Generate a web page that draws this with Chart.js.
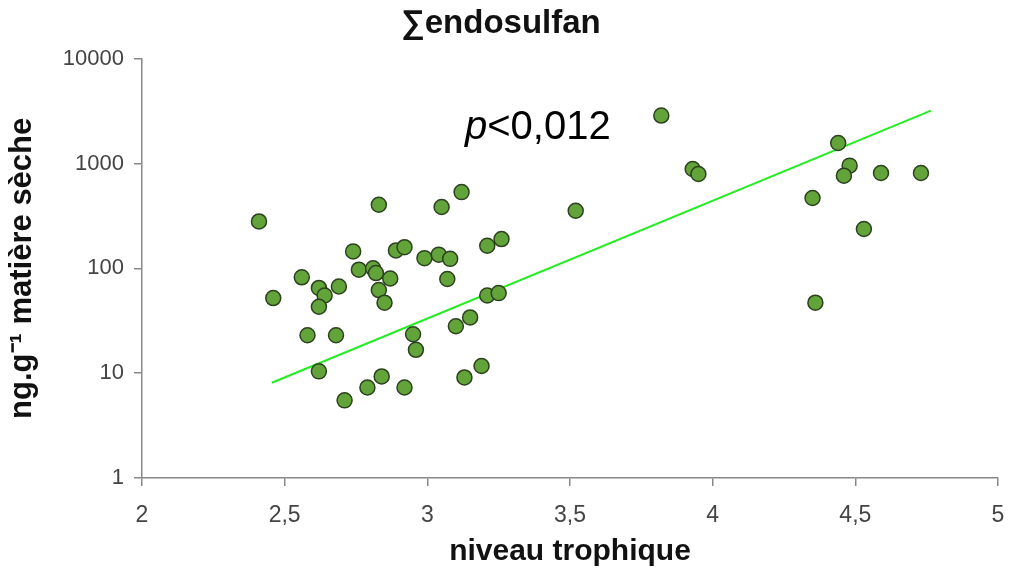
<!DOCTYPE html>
<html>
<head>
<meta charset="utf-8">
<script src="https://cdn.jsdelivr.net/npm/chart.js@4.4.1/dist/chart.umd.min.js"></script>
<style>
  html, body { margin: 0; padding: 0; background: #fff; }
  #wrap { width: 1009px; height: 570px; }
</style>
</head>
<body>
<div id="wrap"><canvas id="chart"></canvas></div>
<script>
// trophic level of each sample
const trophicLevel = [
    2.41, 2.83, 2.74, 2.89, 2.92, 2.99, 2.56, 2.76, 2.81, 2.82,
    2.87, 2.69, 2.62, 2.64, 2.62, 2.46, 2.83, 2.85, 2.58, 2.68,
    2.95, 2.96, 2.62, 2.84, 2.79, 2.92, 2.71, 3.12, 3.05, 3.04,
    3.08, 3.21, 3.26, 3.07, 3.21, 3.25, 3.15, 3.10, 3.13, 3.19,
    3.52, 3.82, 3.93, 3.95, 4.44, 4.48, 4.46, 4.59, 4.73, 4.35,
    4.53, 4.36
];
// sum of endosulfan, ng/g dry matter
const endosulfan = [
    280, 404, 145, 148, 159, 125, 82, 97, 100, 90,
    80, 67, 65, 55, 43, 52, 62, 47, 23, 23,
    23.5, 16.7, 10.4, 9.3, 7.3, 7.3, 5.5, 533, 384, 135,
    123, 164, 190, 79, 55, 58, 34, 28, 9.1, 11.7,
    354, 2860, 885, 793, 1566, 953, 764, 811, 811, 468,
    237, 47
];
// regression line ends
const trendX = [2.455, 4.765];
const trendY = [8.1, 3190];

const xTicks = [2, 2.5, 3, 3.5, 4, 4.5, 5];
const xTickLabels = ['2', '2,5', '3', '3,5', '4', '4,5', '5'];
const yTicks = [1, 10, 100, 1000, 10000];
const yTickLabels = ['1', '10', '100', '1000', '10000'];

const pLabel = 'p<0,012';

const FONT = "'Liberation Sans', Arial, sans-serif";

// draws the "p<0,012" note, p in italic
const pNote = {
    id: 'pNote',
    afterDatasetsDraw(chart) {
        const ctx = chart.ctx;
        const x = chart.scales.x.getPixelForValue(3.132);
        const y = chart.scales.y.getPixelForValue(1722);
        ctx.save();
        ctx.fillStyle = '#000';
        ctx.textBaseline = 'alphabetic';
        ctx.font = 'italic 40px ' + FONT;
        ctx.fillText(pLabel[0], x, y);
        const w = ctx.measureText(pLabel[0]).width;
        ctx.font = '40px ' + FONT;
        ctx.fillText(pLabel.slice(1), x + w, y);
        ctx.restore();
    }
};

new Chart(document.getElementById('chart'), {
    type: 'scatter',
    data: {
        datasets: [
            {
                label: 'endosulfan',
                data: trophicLevel.map((t, i) => ({ x: t, y: endosulfan[i] })),
                backgroundColor: '#62a33a',
                borderColor: '#2c421e',
                borderWidth: 1.5,
                pointRadius: 7.5,
                order: 1
            },
            {
                type: 'line',
                label: 'trend',
                data: trendX.map((t, i) => ({ x: t, y: trendY[i] })),
                borderColor: '#22ee22',
                borderWidth: 2,
                pointRadius: 0,
                fill: false,
                order: 2
            }
        ]
    },
    options: {
        responsive: true,
        maintainAspectRatio: false,
        animation: false,
        layout: { padding: { left: 4, right: 11, top: 0, bottom: 0 } },
        plugins: {
            legend: { display: false },
            tooltip: { enabled: false },
            title: {
                display: true,
                text: '∑endosulfan',
                color: '#111',
                font: { family: FONT, size: 33, weight: 'bold' },
                padding: { top: 4, bottom: 15 }
            }
        },
        scales: {
            x: {
                type: 'linear',
                min: 2,
                max: 5,
                afterBuildTicks: (scale) => { scale.ticks = xTicks.map(v => ({ value: v })); },
                afterFit: (scale) => {
                    scale.height = 92;
                    scale.paddingLeft = 0;
                    scale.paddingRight = 0;
                },
                ticks: {
                    color: '#444',
                    font: { family: FONT, size: 23 },
                    padding: 16,
                    callback: (v) => xTickLabels[xTicks.indexOf(v)]
                },
                grid: { drawOnChartArea: false, drawTicks: true, tickLength: 8, color: '#888', lineWidth: 1.5 },
                border: { color: '#888', width: 1.5 },
                title: {
                    display: true,
                    text: 'niveau trophique',
                    color: '#111',
                    font: { family: FONT, size: 30, weight: 'bold' },
                    padding: { top: 0, bottom: 0 }
                }
            },
            y: {
                type: 'logarithmic',
                min: 1,
                max: 10000,
                afterBuildTicks: (scale) => { scale.ticks = yTicks.map(v => ({ value: v })); },
                afterFit: (scale) => { scale.width = 138; },
                ticks: {
                    color: '#444',
                    font: { family: FONT, size: 22 },
                    padding: 10,
                    callback: (v) => yTickLabels[yTicks.indexOf(v)]
                },
                grid: { drawOnChartArea: false, drawTicks: true, tickLength: 8, color: '#888', lineWidth: 1.5 },
                border: { color: '#888', width: 1.5 },
                title: {
                    display: true,
                    text: 'ng.g⁻¹ matière sèche',
                    color: '#111',
                    font: { family: FONT, size: 31, weight: 'bold' },
                    padding: { top: 0, bottom: 4 }
                }
            }
        }
    },
    plugins: [pNote]
});
</script>
</body>
</html>
